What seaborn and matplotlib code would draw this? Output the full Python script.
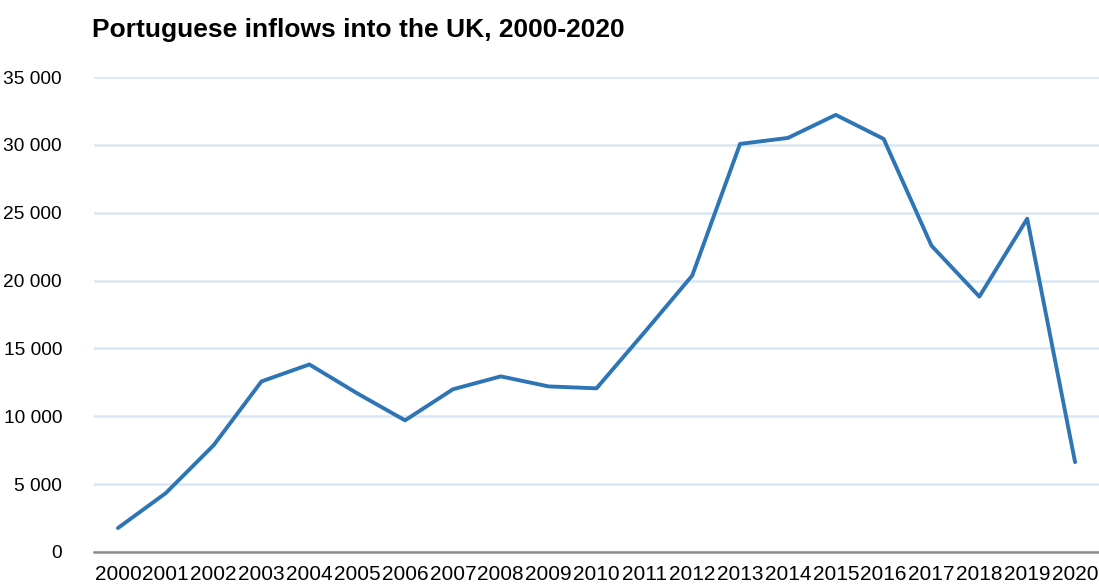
import numpy as np
import pandas as pd
import seaborn as sns
import matplotlib.pyplot as plt
from matplotlib.ticker import FuncFormatter

# Dados
anos = list(range(2000, 2021))
entradas = [1765, 4340, 7870, 12570, 13820, 11690, 9700, 11990, 12940, 12200,
            12060, 16180, 20370, 30070, 30510, 32210, 30440, 22570, 18820, 24560,
            6620]
titulo = 'Portuguese inflows into the UK, 2000-2020'

df = pd.DataFrame({'ano': anos, 'entradas': entradas})

sns.set_style('white')
plt.rcParams['font.family'] = ['Liberation Sans', 'DejaVu Sans']
plt.rcParams['text.color'] = 'black'
plt.rcParams['xtick.color'] = 'black'
plt.rcParams['ytick.color'] = 'black'

fig = plt.figure(figsize=(10.99, 5.88), dpi=100)
ax = fig.add_axes([94 / 1099, 1 - 552 / 588, 1 - 94 / 1099, (552 - 77) / 588])

sns.lineplot(data=df, x='ano', y='entradas', ax=ax, color='#2E75B6',
             linewidth=2.8, solid_capstyle='round')

ax.set_xlim(anos[0] - 0.5, anos[-1] + 0.5)
ax.set_ylim(0, 35000)
ax.set_xticks(anos)
ax.set_xticklabels([str(a) for a in anos], fontsize=15)
ax.set_yticks(np.arange(0, 35001, 5000))
ax.yaxis.set_major_formatter(FuncFormatter(lambda v, p: f'{int(v):,}'.replace(',', ' ')))
ax.tick_params(axis='y', labelsize=13.8, length=0, pad=23, labelcolor='black')
ax.tick_params(axis='x', length=0, pad=9, labelcolor='black')

ax.grid(axis='y', color='#D9E6F5', linewidth=1.8)
ax.set_axisbelow(True)
for s in ['top', 'right', 'left']:
    ax.spines[s].set_visible(False)
ax.spines['bottom'].set_color('#8C8C8C')
ax.spines['bottom'].set_linewidth(1.8)
ax.spines['bottom'].set_zorder(3)

ax.set_xlabel('')
ax.set_ylabel('')

fig.text(92 / 1099, 1 - 37 / 588, titulo, fontsize=19, fontweight='bold',
         ha='left', va='baseline', color='black')

fig.savefig('out.png', dpi=100)
